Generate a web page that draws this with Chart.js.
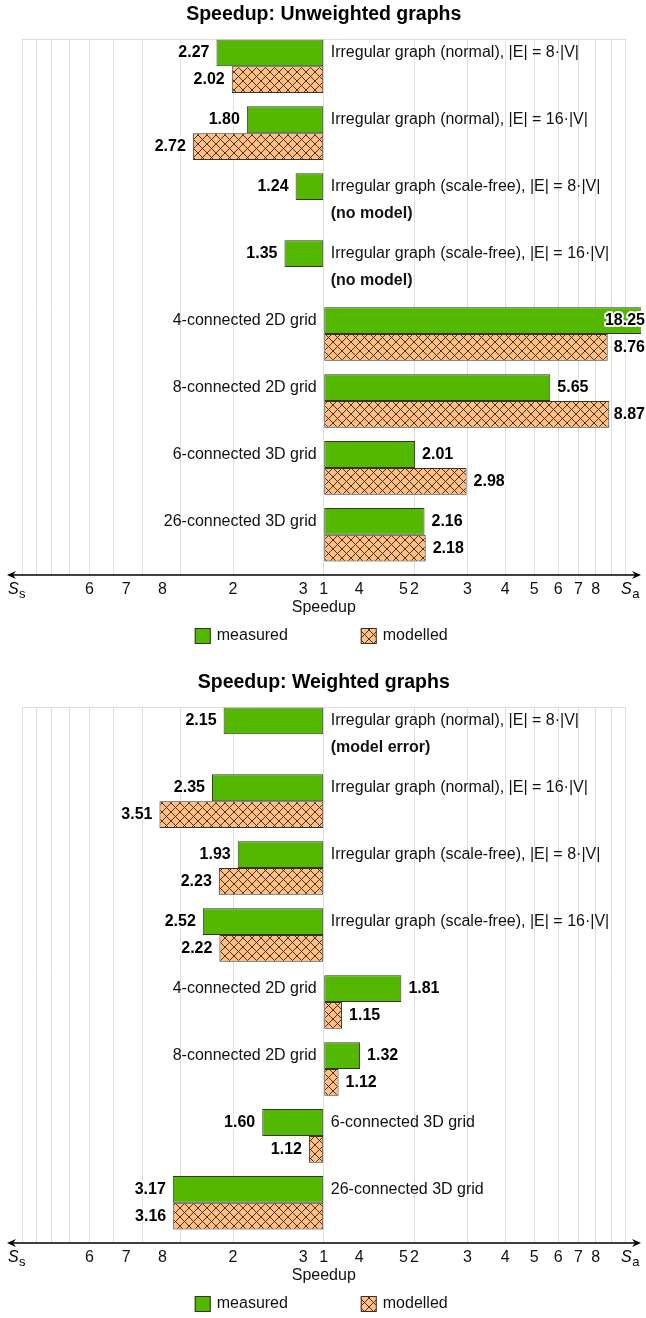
<!DOCTYPE html>
<html>
<head>
<meta charset="utf-8">
<script src="https://cdn.jsdelivr.net/npm/chart.js@4.4.1/dist/chart.umd.min.js"></script>
<style>
  html, body { margin: 0; padding: 0; background: #fff; overflow: hidden; }
  .panel { width: 646px; height: 668px; }
  canvas { display: block; }
</style>
</head>
<body>
<div class="panel"><canvas id="unweighted" width="646" height="668"></canvas></div>
<div class="panel"><canvas id="weighted" width="646" height="668"></canvas></div>
<script>
// ---- data -------------------------------------------------------------
const categories = [
  'Irregular graph (normal), |E| = 8·|V|',
  'Irregular graph (normal), |E| = 16·|V|',
  'Irregular graph (scale-free), |E| = 8·|V|',
  'Irregular graph (scale-free), |E| = 16·|V|',
  '4-connected 2D grid',
  '8-connected 2D grid',
  '6-connected 3D grid',
  '26-connected 3D grid'
];

// 's' = group plotted on the S_s half (left), 'a' = on the S_a half (right)
const unweightedSide     = ['s', 's', 's', 's', 'a', 'a', 'a', 'a'];
const unweightedMeasured = [2.27, 1.80, 1.24, 1.35, 18.25, 5.65, 2.01, 2.16];
const unweightedModelled = [2.02, 2.72, null, null, 8.76, 8.87, 2.98, 2.18];
const unweightedNotes    = [null, null, '(no model)', '(no model)', null, null, null, null];

const weightedSide     = ['s', 's', 's', 's', 'a', 'a', 's', 's'];
const weightedMeasured = [2.15, 2.35, 1.93, 2.52, 1.81, 1.32, 1.60, 3.17];
const weightedModelled = [null, 3.51, 2.23, 2.22, 1.15, 1.12, 1.12, 3.16];
const weightedNotes    = ['(model error)', null, null, null, null, null, null, null];

const seriesNames = ['measured', 'modelled'];

// grid lines, in speedup units, on both halves
const gridSpeedups = [1, 2, 3, 4, 5, 6, 7, 8, 9, 10];
// tick labels of the S_s half and the S_a half (speedup units and text)
const slowTickAt   = [6, 4.53, 3.43, 2, 1.17];
const slowTickText = ['6', '7', '8', '2', '3'];
const fastTickAt   = [1, 1.31, 1.84, 2, 3, 4, 5, 6, 7, 8];
const fastTickText = ['1', '4', '5', '2', '3', '4', '5', '6', '7', '8'];
const axisEndMax = 10;

// ---- styling ----------------------------------------------------------
const FONT = "'Liberation Sans', Arial, Helvetica, sans-serif";
const GREEN = '#54b800';
const EDGE = '#333333';
const PEACH = '#ffbe82';
const GRID = '#dddddd';

function crossHatch() {
  const c = document.createElement('canvas');
  c.width = 9; c.height = 9;
  const g = c.getContext('2d');
  g.fillStyle = PEACH;
  g.fillRect(0, 0, 9, 9);
  g.strokeStyle = 'rgba(60,32,12,0.9)';
  g.lineWidth = 1;
  g.beginPath();
  g.moveTo(-1, -1); g.lineTo(10, 10);
  g.moveTo(-1, 10); g.lineTo(10, -1);
  g.stroke();
  return g.createPattern(c, 'repeat');
}

// signed log position: S_s half to the left of 1, S_a half to the right
const toAxis = (v, side) => (side === 's' ? -1 : 1) * Math.log10(v);

const gridTicks = [...gridSpeedups.map(v => -Math.log10(v)), ...gridSpeedups.slice(1).map(v => Math.log10(v))]
  .sort((a, b) => a - b);
const labelTicks = [
  ...slowTickAt.map((v, i) => ({ value: -Math.log10(v), text: slowTickText[i] })),
  ...fastTickAt.map((v, i) => ({ value: Math.log10(v), text: fastTickText[i] }))
].sort((a, b) => a.value - b.value);

// ---- plugins ----------------------------------------------------------
const barText = {
  id: 'barText',
  afterDatasetsDraw(chart, args, opts) {
    const { ctx } = chart;
    const zero = chart.scales.x.getPixelForValue(0);
    const mMeta = chart.getDatasetMeta(0);
    const hMeta = chart.getDatasetMeta(1);
    ctx.save();
    ctx.textBaseline = 'middle';
    opts.side.forEach((side, i) => {
      const mEl = mMeta.data[i];
      // category name
      ctx.font = '16px ' + FONT;
      ctx.fillStyle = '#111';
      if (side === 's') { ctx.textAlign = 'left'; ctx.fillText(categories[i], zero + 7, mEl.y); }
      else { ctx.textAlign = 'right'; ctx.fillText(categories[i], zero - 7, mEl.y); }
      // note for a missing model value
      if (opts.notes[i]) {
        ctx.font = 'bold 16px ' + FONT;
        ctx.textAlign = 'left';
        ctx.fillText(opts.notes[i], zero + 7, mEl.y + mEl.height);
      }
      // values
      [[mMeta, opts.measured], [hMeta, opts.modelled]].forEach(([meta, values]) => {
        const v = values[i];
        if (v == null) return;
        const el = meta.data[i];
        const txt = v.toFixed(2);
        ctx.font = 'bold 16px ' + FONT;
        const w = ctx.measureText(txt).width;
        let x;
        if (side === 's') { x = el.x - 7 - w; }
        else { x = Math.min(el.x + 7, chart.width - 1 - w); }
        ctx.textAlign = 'left';
        ctx.lineJoin = 'round';
        ctx.lineWidth = 4;
        ctx.strokeStyle = '#fff';
        ctx.strokeText(txt, x, el.y);
        ctx.fillStyle = '#000';
        ctx.fillText(txt, x, el.y);
      });
    });
    ctx.restore();
  }
};

const axisDecor = {
  id: 'axisDecor',
  afterDraw(chart) {
    const { ctx, chartArea } = chart;
    const sx = chart.scales.x;
    const y = chartArea.bottom;
    const x0 = 7, x1 = chart.width - 5;
    ctx.save();
    // double-headed axis line
    ctx.strokeStyle = '#000';
    ctx.fillStyle = '#000';
    ctx.lineWidth = 1.4;
    ctx.beginPath();
    ctx.moveTo(x0 + 3, y); ctx.lineTo(x1 - 3, y);
    ctx.stroke();
    [[x0, 1], [x1, -1]].forEach(([tip, dir]) => {
      ctx.beginPath();
      ctx.moveTo(tip, y);
      ctx.lineTo(tip + dir * 9, y - 4);
      ctx.lineTo(tip + dir * 6, y);
      ctx.lineTo(tip + dir * 9, y + 4);
      ctx.closePath();
      ctx.fill();
    });
    // S_s and S_a end labels
    const drawS = (sub, cx) => {
      ctx.font = 'italic 16px ' + FONT;
      const wS = ctx.measureText('S').width;
      ctx.font = '13px ' + FONT;
      const wSub = ctx.measureText(sub).width;
      const left = cx - (wS + wSub) / 2;
      ctx.textAlign = 'left';
      ctx.textBaseline = 'alphabetic';
      ctx.font = 'italic 16px ' + FONT;
      ctx.fillText('S', left, y + 19);
      ctx.font = '13px ' + FONT;
      ctx.fillText(sub, left + wS + 0.5, y + 23);
    };
    drawS('s', sx.getPixelForValue(-Math.log10(axisEndMax)) - 6);
    drawS('a', sx.getPixelForValue(Math.log10(axisEndMax)) + 5);
    // legend
    const cx = (chartArea.left + chartArea.right) / 2;
    const ly = y + 53;
    chart.data.datasets.forEach((ds, k) => {
      const bx = cx + (k === 0 ? -129 : 37);
      ctx.fillStyle = ds.backgroundColor;
      ctx.fillRect(bx, ly, 16, 16);
      ctx.strokeStyle = EDGE;
      ctx.lineWidth = 1;
      ctx.strokeRect(bx + 0.5, ly + 0.5, 15, 15);
      ctx.fillStyle = '#111';
      ctx.font = '16px ' + FONT;
      ctx.textAlign = 'left';
      ctx.textBaseline = 'middle';
      ctx.fillText(ds.label, bx + 22, ly + 8);
    });
    ctx.restore();
  }
};

// ---- chart builder ----------------------------------------------------
function buildChart(canvasId, title, side, measured, modelled, notes) {
  const pattern = crossHatch();
  const toPoints = vals => vals.map((v, i) => ({ y: i, x: v == null ? null : toAxis(v, side[i]) }));
  const common = {
    borderColor: EDGE,
    borderWidth: 1,
    borderSkipped: false,
    categoryPercentage: 0.8,
    barPercentage: 1.0,
    clip: { left: 0, top: 0, right: 16, bottom: 0 }
  };
  return new Chart(document.getElementById(canvasId), {
    type: 'bar',
    data: {
      datasets: [
        Object.assign({ label: seriesNames[0], data: toPoints(measured), backgroundColor: GREEN }, common),
        Object.assign({ label: seriesNames[1], data: toPoints(modelled), backgroundColor: pattern }, common)
      ]
    },
    options: {
      indexAxis: 'y',
      responsive: false,
      animation: false,
      events: [],
      layout: { padding: { left: 22.5, right: 21, top: 0, bottom: 0 } },
      scales: {
        y: {
          type: 'linear',
          reverse: true,
          offset: false,
          min: -0.4,
          max: 7.6,
          afterBuildTicks: s => { s.ticks = categories.map((c, i) => ({ value: i })); },
          grid: { display: false, drawTicks: false },
          border: { display: false },
          ticks: { display: false },
          afterFit: s => { s.width = 0; }
        },
        x: {
          type: 'linear',
          position: 'top',
          min: -1,
          max: 1,
          afterBuildTicks: s => { s.ticks = gridTicks.map(v => ({ value: v })); },
          grid: { color: GRID, lineWidth: 1, drawTicks: false },
          border: { display: true, color: GRID, width: 1 },
          ticks: { display: false },
          afterFit: s => { s.height = 0; }
        },
        x2: {
          type: 'linear',
          position: 'bottom',
          min: -1,
          max: 1,
          afterBuildTicks: s => { s.ticks = labelTicks.map(t => ({ value: t.value })); },
          grid: { display: false, drawTicks: false },
          border: { display: false },
          ticks: {
            autoSkip: false,
            maxRotation: 0,
            padding: 5,
            color: '#111',
            font: { family: FONT, size: 16 },
            callback: (value, index) => labelTicks[index].text
          },
          title: {
            display: true,
            text: 'Speedup',
            color: '#111',
            font: { family: FONT, size: 16 },
            padding: { top: 0, bottom: 51 }
          },
          afterFit: s => { s.height = 93; }
        }
      },
      plugins: {
        legend: { display: false },
        tooltip: { enabled: false },
        title: {
          display: true,
          text: title,
          color: '#000',
          font: { family: FONT, size: 19.5, weight: 'bold' },
          padding: { top: 3, bottom: 13 }
        },
        barText: { side, measured, modelled, notes }
      }
    },
    plugins: [barText, axisDecor]
  });
}

buildChart('unweighted', 'Speedup: Unweighted graphs', unweightedSide, unweightedMeasured, unweightedModelled, unweightedNotes);
buildChart('weighted', 'Speedup: Weighted graphs', weightedSide, weightedMeasured, weightedModelled, weightedNotes);
</script>
</body>
</html>
